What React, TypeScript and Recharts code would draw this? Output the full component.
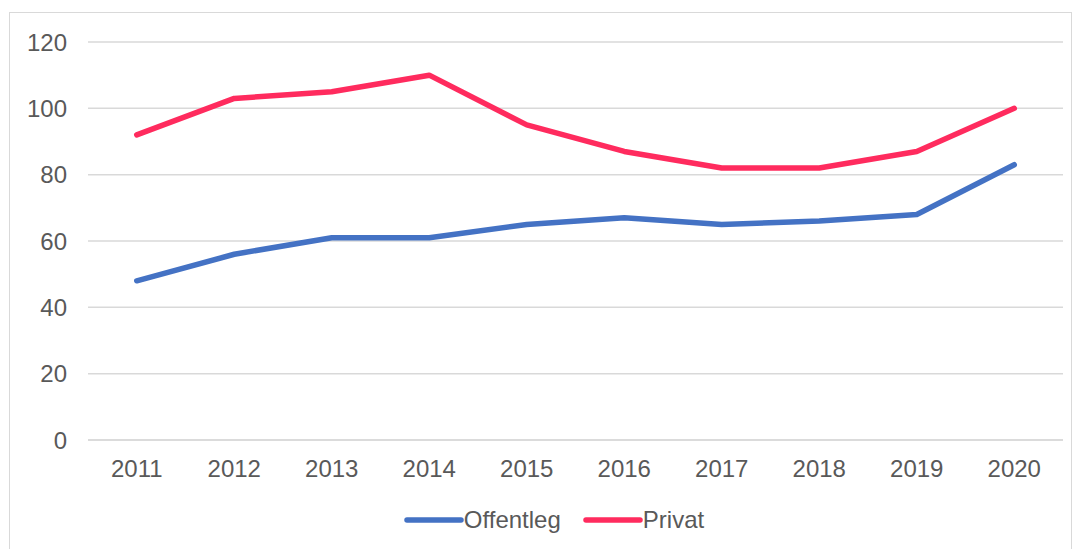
import React from 'react';
import {
  LineChart,
  Line,
  XAxis,
  YAxis,
  CartesianGrid,
} from 'recharts';

const years = ['2011', '2012', '2013', '2014', '2015', '2016', '2017', '2018', '2019', '2020'];
const offentleg = [48, 56, 61, 61, 65, 67, 65, 66, 68, 83];
const privat = [92, 103, 105, 110, 95, 87, 82, 82, 87, 100];
const yTicks = [0, 20, 40, 60, 80, 100, 120];

const BLUE = '#4472C4';
const PINK = '#FF2B5E';
const TEXT = '#595959';
const GRID = '#D9D9D9';
const FONT = '"Liberation Sans", Arial, sans-serif';

const data = years.map((year, i) => ({
  year,
  Offentleg: offentleg[i],
  Privat: privat[i],
}));

const series = [
  { key: 'Offentleg', color: BLUE },
  { key: 'Privat', color: PINK },
];

const CustomLegend = (): JSX.Element => (
  <div
    style={{
      position: 'absolute',
      left: 15,
      top: 505,
      width: 1078,
      height: 30,
      display: 'flex',
      justifyContent: 'center',
      alignItems: 'center',
      gap: 22,
      fontFamily: FONT,
      fontSize: 24,
      color: TEXT,
    }}
  >
    {series.map((s) => (
      <div key={s.key} style={{ display: 'flex', alignItems: 'center' }}>
        <svg width={60} height={10} style={{ marginRight: 0 }}>
          <line x1={3} y1={5} x2={57} y2={5} stroke={s.color} strokeWidth={5.5} strokeLinecap="round" />
        </svg>
        <span>{s.key}</span>
      </div>
    ))}
  </div>
);

export default function App(): JSX.Element {
  return (
    <div style={{ position: 'absolute', left: 0, top: 0, width: 1078, height: 549, background: '#fff', overflow: 'hidden' }}>
      <div
        style={{
          position: 'absolute',
          left: 9,
          top: 12,
          width: 1063,
          height: 560,
          border: `1px solid ${GRID}`,
          boxSizing: 'border-box',
        }}
      />
      <div style={{ position: 'absolute', left: 0, top: 0 }}>
        <LineChart
          width={1078}
          height={549}
          data={data}
          margin={{ top: 42, right: 15, bottom: 0, left: 0 }}
        >
          <CartesianGrid vertical={false} stroke={GRID} strokeWidth={1.5} />
          <XAxis
            dataKey="year"
            axisLine={{ stroke: GRID, strokeWidth: 1.5 }}
            tickLine={false}
            tickSize={0}
            tickMargin={20}
            height={109}
            padding={{ left: 48.75, right: 48.75 }}
            tick={{ fill: TEXT, fontSize: 24, fontFamily: FONT }}
          />
          <YAxis
            domain={[0, 120]}
            ticks={yTicks}
            axisLine={false}
            tickLine={false}
            tickSize={0}
            tickMargin={21}
            width={88}
            tick={{ fill: TEXT, fontSize: 24, fontFamily: FONT }}
          />
          {series.map((s) => (
            <Line
              key={s.key}
              type="linear"
              dataKey={s.key}
              stroke={s.color}
              strokeWidth={5.5}
              strokeLinecap="round"
              strokeLinejoin="round"
              dot={false}
              activeDot={false}
              isAnimationActive={false}
            />
          ))}
        </LineChart>
      </div>
      <CustomLegend />
    </div>
  );
}
